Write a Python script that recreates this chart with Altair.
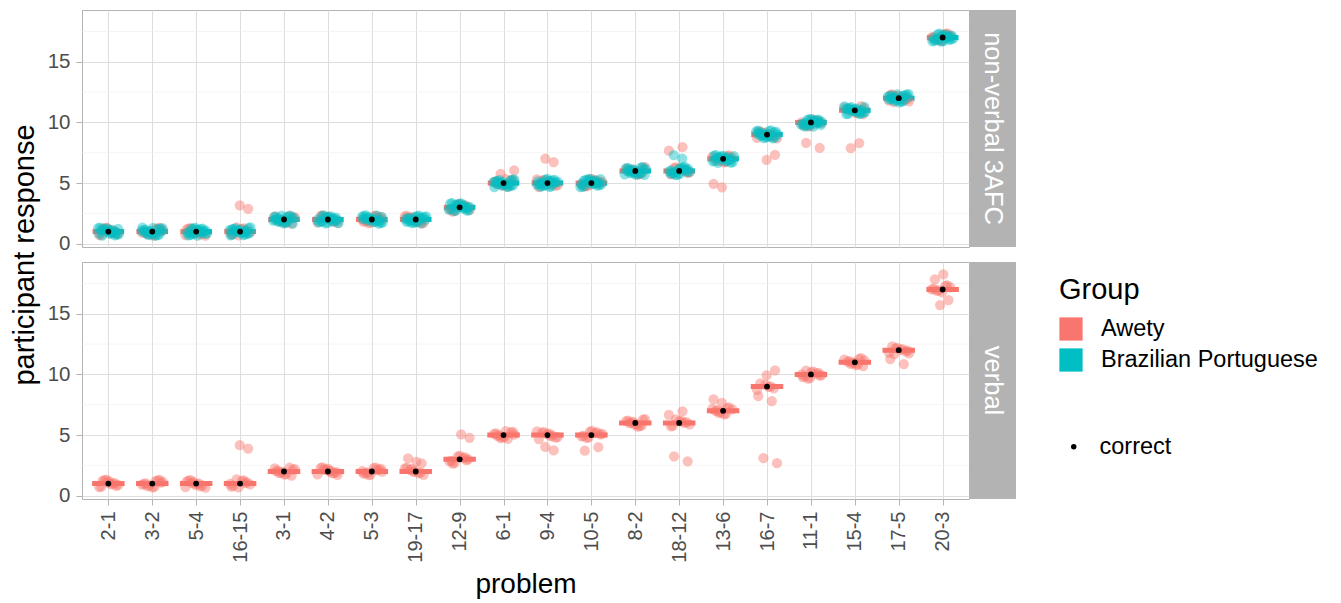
import json
import altair as alt
import pandas as pd

# ---------------- data ----------------
PROBLEMS = ["2-1", "3-2", "5-4", "16-15", "3-1", "4-2", "5-3", "19-17", "12-9", "6-1",
            "9-4", "10-5", "8-2", "18-12", "13-6", "16-7", "11-1", "15-4", "17-5", "20-3"]
CORRECT = [1, 1, 1, 1, 2, 2, 2, 2, 3, 5, 5, 5, 6, 6, 7, 9, 10, 11, 12, 17]
CONDITIONS = ["non-verbal 3AFC", "verbal"]
GROUPS = ["Awety", "Brazilian Portuguese"]
N_PARTICIPANTS = {"Awety": 12, "Brazilian Portuguese": 20}

# responses that differ from the correct answer (all others equal the correct answer)
NONVERBAL_AWETY_OFF = {"16-15": [3, 3], "6-1": [6, 6], "9-4": [7, 7], "18-12": [8, 8],
                       "13-6": [5, 5], "16-7": [7, 7], "11-1": [8, 8], "15-4": [8, 8]}
NONVERBAL_BP_OFF = {"18-12": [7, 7]}
VERBAL_AWETY_OFF = {"16-15": [4, 4], "19-17": [3, 3, 3], "12-9": [5, 5], "9-4": [4, 4],
                    "10-5": [4, 4], "18-12": [7, 7, 3, 3], "13-6": [8, 8],
                    "16-7": [10, 10, 8, 8, 3, 3], "17-5": [11, 11],
                    "20-3": [18, 18, 16, 16]}

Y_TICKS = [0, 5, 10, 15]
Y_MINOR = [2.5, 7.5, 12.5, 17.5]
COLORS = ["#F8766D", "#00BFC4"]

# ---------------- build tables ----------------
def responses(cond, group, off):
    rows = []
    n = N_PARTICIPANTS[group]
    for i, (p, c) in enumerate(zip(PROBLEMS, CORRECT)):
        vals = list(off.get(p, [])) + [c] * (n - len(off.get(p, [])))
        for v in vals:
            rows.append({"condition": cond, "group": group, "problem": p, "idx": i, "response": v})
    return rows

panels = {
    "non-verbal 3AFC": pd.DataFrame(responses("non-verbal 3AFC", "Awety", NONVERBAL_AWETY_OFF)
                                    + responses("non-verbal 3AFC", "Brazilian Portuguese", NONVERBAL_BP_OFF)),
    "verbal": pd.DataFrame(responses("verbal", "Awety", VERBAL_AWETY_OFF)),
}
correct_df = pd.DataFrame({"idx": list(range(len(PROBLEMS))), "correct": CORRECT,
                           "key": ["correct"] * len(PROBLEMS)})

W, H = 887, 237
FONT = "Liberation Sans"
xscale = alt.Scale(domain=[-0.6, len(PROBLEMS) - 0.4], nice=False, zero=False)
yscale = alt.Scale(domain=[-0.27, 19.27], nice=False, zero=False)
label_expr = json.dumps(PROBLEMS) + "[datum.value]"

color = alt.Color("group:N", scale=alt.Scale(domain=GROUPS, range=COLORS),
                  legend=alt.Legend(title="Group", orient="none", legendX=977, legendY=266,
                                    symbolType="square", symbolSize=540, symbolOpacity=1,
                                    symbolStrokeWidth=0, titleFontSize=29, titleFontWeight="normal",
                                    titleColor="black", labelFontSize=23.5, labelColor="black",
                                    rowPadding=7, titlePadding=12, labelOffset=18, padding=0,
                                    labelLimit=400, titleFont=FONT, labelFont=FONT))


def panel(cond, bottom):
    df = panels[cond]
    if bottom:
        xaxis = alt.Axis(values=list(range(len(PROBLEMS))), labelExpr=label_expr, labelAngle=-90,
                         title="problem", grid=True, labelFontSize=20, titleFontSize=28,
                         labelPadding=6, titlePadding=8)
    else:
        xaxis = alt.Axis(values=list(range(len(PROBLEMS))), labels=False, ticks=False,
                         title=None, grid=True)
    if bottom:
        yaxis = alt.Axis(values=Y_TICKS, title=None, grid=True)
    else:
        yaxis = alt.Axis(values=Y_TICKS, title="participant response", grid=True,
                         titleY=244.5, titleFontSize=29, titlePadding=8)

    dodge = cond != "verbal"
    if dodge:
        x0 = "datum.group == 'Awety' ? datum.idx - 0.36 : datum.idx"
        x1 = "datum.group == 'Awety' ? datum.idx : datum.idx + 0.36"
    else:
        x0 = "datum.idx - 0.37"
        x1 = "datum.idx + 0.37"

    minor = alt.Chart(pd.DataFrame({"v": Y_MINOR})).mark_rule(color="#EEEEEE", strokeWidth=0.6).encode(
        y=alt.Y("v:Q", scale=yscale, axis=yaxis))

    base = alt.Chart(df)
    boxes = base.transform_aggregate(
        med="median(response)", groupby=["idx", "group"]
    ).transform_calculate(x0=x0, x1=x1).mark_rule(strokeWidth=5).encode(
        x=alt.X("x0:Q", scale=xscale, axis=xaxis),
        x2="x1:Q",
        y=alt.Y("med:Q", scale=yscale, axis=yaxis),
        color=color,
    )
    pts = base.transform_window(rn="row_number()").transform_calculate(
        jx="datum.idx + ((datum.rn * 0.618034) % 1 - 0.5) * 0.5",
        jy="datum.response + ((datum.rn * 0.4142136) % 1 - 0.5) * 0.7",
    ).mark_circle(size=105, opacity=0.45).encode(
        x=alt.X("jx:Q", scale=xscale, axis=xaxis),
        y=alt.Y("jy:Q", scale=yscale, axis=yaxis),
        color=color,
    )
    corr = alt.Chart(correct_df).mark_point(filled=True, size=34, color="black", opacity=1).encode(
        x=alt.X("idx:Q", scale=xscale, axis=xaxis),
        y=alt.Y("correct:Q", scale=yscale, axis=yaxis),
        shape=alt.Shape("key:N", scale=alt.Scale(range=["circle"]),
                        legend=alt.Legend(title=None, orient="none", legendX=980, legendY=425,
                                          symbolFillColor="black", symbolStrokeColor="black",
                                          symbolSize=30, labelFontSize=23.5, labelColor="black",
                                          labelOffset=14, padding=0, labelFont=FONT)),
    )
    strip_df = pd.DataFrame({"label": [cond]})
    strip = alt.Chart(strip_df).mark_rect(color="#B3B3B3").encode(
        x=alt.value(W + 1), x2=alt.value(W + 47), y=alt.value(0), y2=alt.value(H))
    strip_txt = alt.Chart(strip_df).mark_text(angle=90, color="white", fontSize=25.5, font=FONT,
                                              baseline="middle", align="center").encode(
        x=alt.value(W + 24), y=alt.value(H / 2), text="label:N")
    return alt.layer(minor, boxes, pts, corr, strip, strip_txt).properties(width=W, height=H)


chart = alt.vconcat(panel("non-verbal 3AFC", False), panel("verbal", True),
                    spacing=15, bounds="flush").properties(
    padding={"left": 1, "top": 1, "right": 5, "bottom": 2}
).configure(font=FONT).configure_view(stroke="#B3B3B3", strokeWidth=1).configure_axis(
    domain=False, gridColor="#DEDEDE", gridWidth=1, tickColor="#B3B3B3", tickSize=6,
    labelColor="#4D4D4D", labelFontSize=20.5, labelPadding=6, titleColor="black",
    titleFontWeight="normal", titleFontSize=26, labelFont=FONT, titleFont=FONT
)

chart.save("out.html", embed_options={"renderer": "svg", "actions": False})
